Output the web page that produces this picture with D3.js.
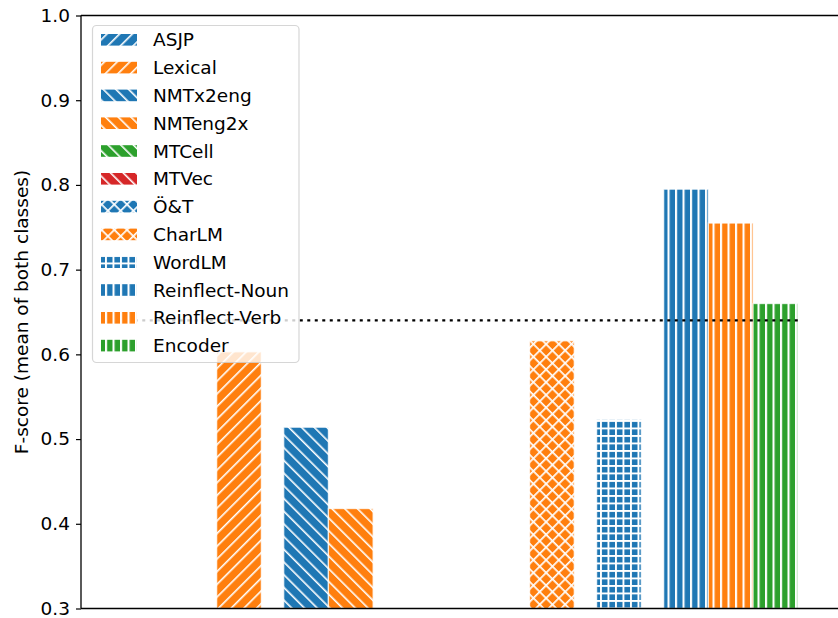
<!DOCTYPE html>
<html><head><meta charset="utf-8">
<script src="https://cdn.jsdelivr.net/npm/d3@7/dist/d3.min.js"></script>
<style>
body{margin:0;background:#fff;}
svg{display:block;font-family:"DejaVu Sans",sans-serif;}
</style></head>
<body><div id="chart"></div>
<script>
// ---- data ----
const series = ["ASJP","Lexical","NMTx2eng","NMTeng2x","MTCell","MTVec","Ö&T","CharLM","WordLM","Reinflect-Noun","Reinflect-Verb","Encoder"];
// bar positions (in bar-width units), grouped with gaps
const positions = [-1, 0, 1.5, 2.5, 3.5, 4.5, 6, 7, 8.5, 10, 11, 12];
// F-scores; null = below the visible axis range (no bar visible)
const values = [null, 0.603, 0.514, 0.418, null, null, null, 0.616, 0.523, 0.795, 0.755, 0.660];
const colors = ["#1f77b4","#ff7f0e","#1f77b4","#ff7f0e","#2ca02c","#d62728","#1f77b4","#ff7f0e","#1f77b4","#1f77b4","#ff7f0e","#2ca02c"];
const hatches = ["/","/","\\","\\","\\","\\","x","x","+","|","|","|"];
const yTicks = [0.3,0.4,0.5,0.6,0.7,0.8,0.9,1.0];
const baseline = 0.64;
const baselineRange = [-2.5, 12.6];
const yLabel = "F-score (mean of both classes)";

// ---- layout ----
const W = 838, H = 618;
const mLeft = 81, mTop = 15.5, mBottom = 608.5;
const unit = 44.7;
const FS = 18.5;
const x = d3.scaleLinear().domain([-3.535, 13.5]).range([mLeft, mLeft + 17.035*unit]);
const y = d3.scaleLinear().domain([0.3, 1.0]).range([mBottom, mTop]);

const svg = d3.select("#chart").append("svg").attr("width", W).attr("height", H);
const defs = svg.append("defs");

function makePattern(id, color, hatch){
  const diag = 12.7, perp = diag/Math.SQRT2, vp = 7.5;
  if (hatch === "/" || hatch === "\\"){
    const p = defs.append("pattern").attr("id", id).attr("patternUnits","userSpaceOnUse")
      .attr("width", perp).attr("height", 10)
      .attr("patternTransform", `rotate(${hatch === "/" ? 45 : -45})`);
    p.append("rect").attr("width", perp).attr("height", 10).attr("fill", color);
    p.append("rect").attr("x", 0).attr("width", 1.6).attr("height", 10).attr("fill", "#fff");
  } else if (hatch === "x"){
    const p = defs.append("pattern").attr("id", id).attr("patternUnits","userSpaceOnUse")
      .attr("width", perp).attr("height", perp)
      .attr("patternTransform", "rotate(45)");
    p.append("rect").attr("width", perp).attr("height", perp).attr("fill", color);
    p.append("rect").attr("width", 1.7).attr("height", perp).attr("fill", "#fff");
    p.append("rect").attr("width", perp).attr("height", 1.7).attr("fill", "#fff");
  } else if (hatch === "|"){
    const p = defs.append("pattern").attr("id", id).attr("patternUnits","userSpaceOnUse")
      .attr("width", vp).attr("height", 10);
    p.append("rect").attr("width", vp).attr("height", 10).attr("fill", color);
    p.append("rect").attr("width", 2.1).attr("height", 10).attr("fill", "#fff");
  } else if (hatch === "+"){
    const p = defs.append("pattern").attr("id", id).attr("patternUnits","userSpaceOnUse")
      .attr("width", vp).attr("height", vp);
    p.append("rect").attr("width", vp).attr("height", vp).attr("fill", color);
    p.append("rect").attr("width", 1.9).attr("height", vp).attr("fill", "#fff");
    p.append("rect").attr("width", vp).attr("height", 1.9).attr("fill", "#fff");
  }
}
series.forEach((s,i)=> makePattern("h"+i, colors[i], hatches[i]));

// clip
defs.append("clipPath").attr("id","plotclip").append("rect")
  .attr("x", mLeft).attr("y", mTop).attr("width", W-mLeft).attr("height", mBottom-mTop);

const plot = svg.append("g").attr("clip-path","url(#plotclip)");

// bars
const barData = series.map((s,i)=>({s, i, pos: positions[i], v: values[i]})).filter(d=>d.v !== null);
plot.selectAll("rect.bar").data(barData).enter().append("rect")
  .attr("class","bar")
  .attr("x", d => x(d.pos - 0.5))
  .attr("width", d => x(d.pos + 0.5) - x(d.pos - 0.5))
  .attr("y", d => y(d.v))
  .attr("height", d => y(0.3) - y(d.v))
  .attr("fill", d => `url(#h${d.i})`)
  .attr("stroke", "#fff").attr("stroke-opacity", 0.75).attr("stroke-width", 1.3);

// baseline dotted
plot.append("line")
  .attr("x1", x(baselineRange[0])).attr("x2", x(baselineRange[1]))
  .attr("y1", y(baseline)).attr("y2", y(baseline))
  .attr("stroke", "#000").attr("stroke-width", 2.2).attr("stroke-dasharray", "3,4.5");

// axes
const yAxis = d3.axisLeft(y).tickValues(yTicks).tickFormat(d3.format(".1f")).tickSize(5).tickPadding(6);
const ya = svg.append("g").attr("transform", `translate(${mLeft},0)`).call(yAxis);
ya.select(".domain").remove();
ya.selectAll(".tick line").attr("stroke","#000").attr("stroke-width",1.2);
ya.selectAll(".tick text").attr("font-size", FS).attr("fill","#000").attr("font-family","DejaVu Sans");

svg.append("line").attr("x1", mLeft).attr("x2", mLeft).attr("y1", mTop).attr("y2", mBottom).attr("stroke","#000").attr("stroke-width",1.3);
svg.append("line").attr("x1", mLeft).attr("x2", W).attr("y1", mTop).attr("y2", mTop).attr("stroke","#000").attr("stroke-width",1.3);
svg.append("line").attr("x1", mLeft).attr("x2", W).attr("y1", mBottom).attr("y2", mBottom).attr("stroke","#000").attr("stroke-width",1.3);

svg.append("text").attr("transform", `translate(28,${(mTop+mBottom)/2}) rotate(-90)`)
  .attr("text-anchor","middle").attr("font-size", FS).attr("fill","#000").text(yLabel);

// legend
const lg = svg.append("g");
lg.append("rect").attr("x", 92.5).attr("y", 25.5).attr("width", 206.5).attr("height", 337)
  .attr("rx", 4).attr("fill", "#fff").attr("fill-opacity", 0.8)
  .attr("stroke", "#cccccc").attr("stroke-opacity", 0.8).attr("stroke-width", 1.2);
series.forEach((s,i)=>{
  const cy = 39.8 + i*27.8;
  lg.append("rect").attr("x", 101).attr("y", cy-5.8).attr("width", 36).attr("height", 11.6)
    .attr("fill", `url(#h${i})`);
  lg.append("text").attr("x", 153).attr("y", cy).attr("dy", "0.36em")
    .attr("font-size", FS).attr("fill", "#000").text(s);
});
</script></body></html>
